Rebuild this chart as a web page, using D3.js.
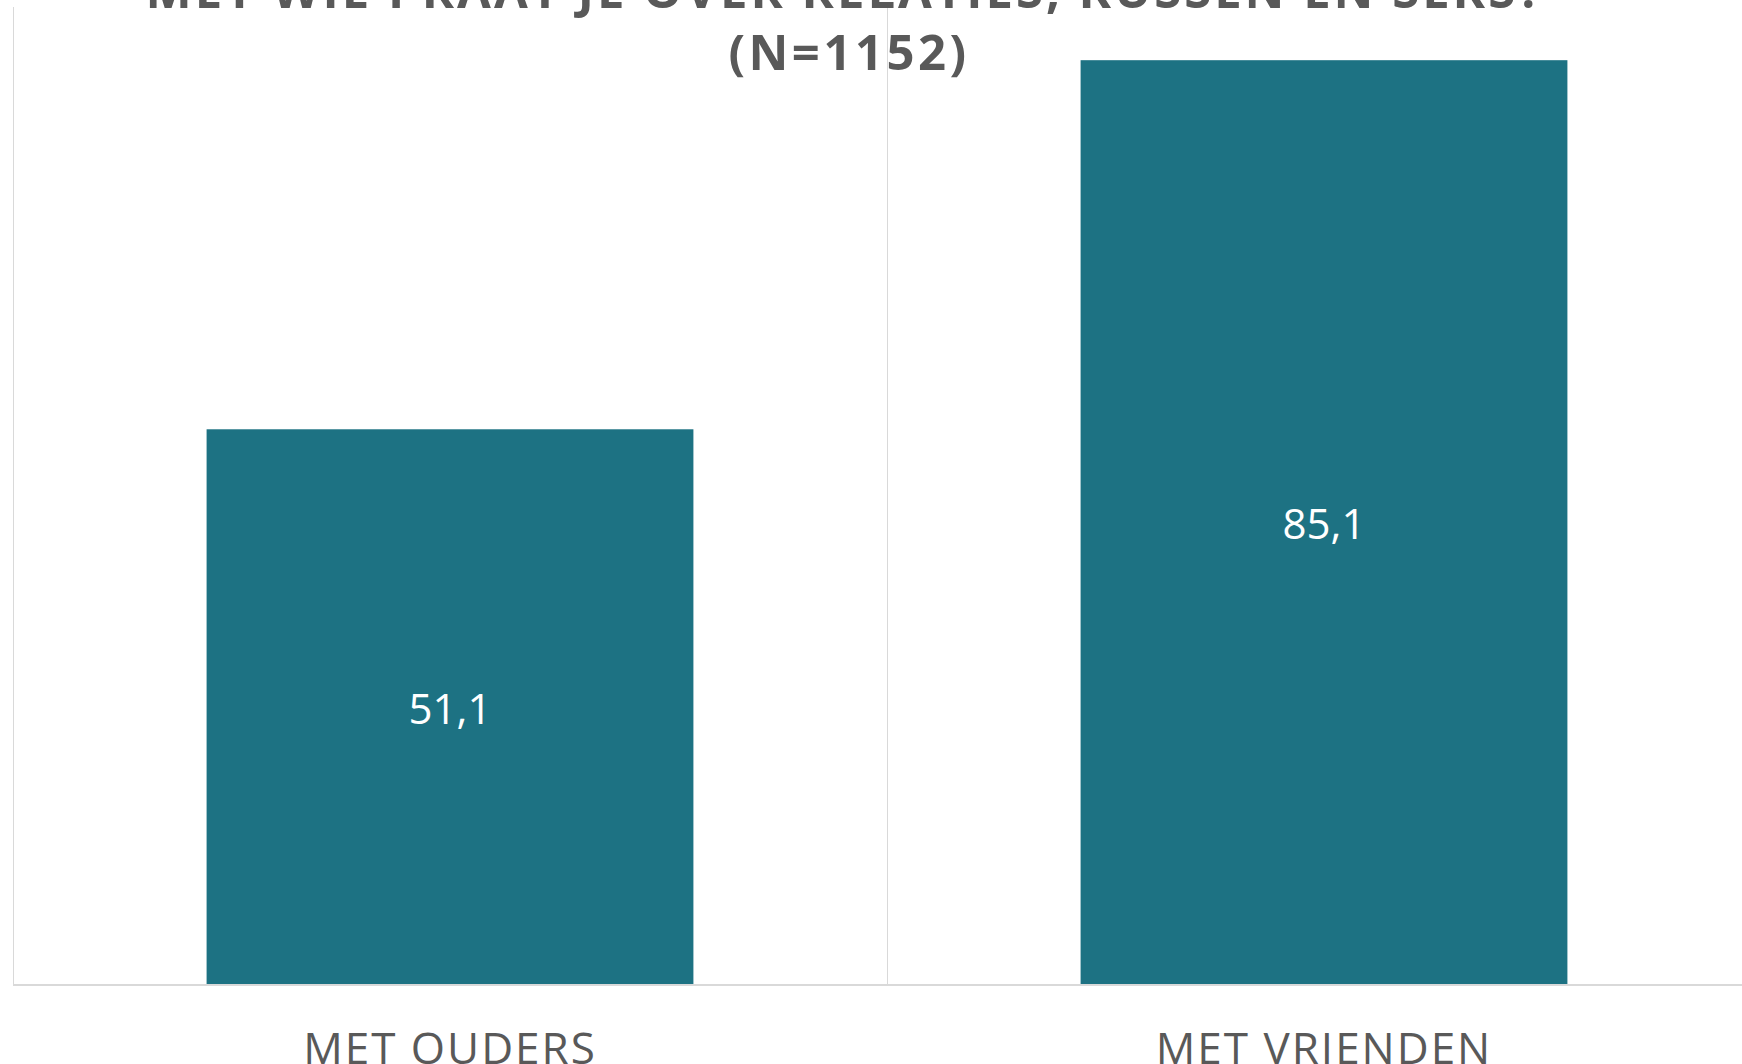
<!doctype html>
<html lang="nl">
  <head>
    <meta charset="UTF-8" />
    <title>Met wie praat je over relaties, kussen en seks?</title>
    <script src="https://unpkg.com/d3@7.9.0/dist/d3.min.js"></script>
    <style>
      body {
        margin: 0;
        overflow: hidden;
        background: #fff;
        font-family: 'Open Sans', sans-serif;
      }
      .title {
        font-size: 49px;
        font-weight: bold;
        fill: #595959;
        text-anchor: middle;
        letter-spacing: 3.5px;
      }
      .title.first {
        letter-spacing: 3px;
      }
      .cat-label {
        font-size: 44px;
        fill: #595959;
        text-anchor: middle;
        letter-spacing: 2px;
      }
      .value-label {
        font-size: 42px;
        fill: #fff;
        text-anchor: middle;
      }
      .grid line {
        stroke: #d9d9d9;
        stroke-width: 1;
      }
    </style>
  </head>
  <body>
    <svg width="1742" height="1064"></svg>

    <script>
      // data
      const categories = ['MET OUDERS', 'MET VRIENDEN'];
      const values = [51.1, 85.1];
      const titleLines = [
        'MET WIE PRAAT JE OVER RELATIES, KUSSEN EN SEKS?',
        '(N=1152)',
      ];

      const svg = d3.select('svg');

      const plot = { left: 13, top: 7, width: 1748, bottom: 984 };

      const x = d3
        .scaleBand()
        .domain(categories)
        .range([plot.left, plot.left + plot.width])
        .paddingInner(0.443)
        .paddingOuter(0.2215);

      const y = d3
        .scaleLinear()
        .domain([0, 90])
        .range([plot.bottom, plot.top]);

      // verticale rasterlijnen op de categoriegrenzen
      const step = x.step();
      const bounds = d3.range(categories.length + 1).map(
        (i) => plot.left + i * step,
      );
      svg
        .append('g')
        .attr('class', 'grid')
        .selectAll('line')
        .data(bounds)
        .join('line')
        .attr('x1', (d) => d + 0.5)
        .attr('x2', (d) => d + 0.5)
        .attr('y1', y(90))
        .attr('y2', y(0));

      // staven
      svg
        .append('g')
        .selectAll('rect')
        .data(values)
        .join('rect')
        .attr('x', (d, i) => x(categories[i]))
        .attr('width', x.bandwidth())
        .attr('y', (d) => y(d))
        .attr('height', (d) => y(0) - y(d))
        .attr('fill', '#1d7283');

      // x-as lijn
      svg
        .append('line')
        .attr('x1', plot.left)
        .attr('x2', plot.left + plot.width)
        .attr('y1', y(0) + 1)
        .attr('y2', y(0) + 1)
        .attr('stroke', '#d9d9d9')
        .attr('stroke-width', 2);

      // waardelabels
      svg
        .append('g')
        .selectAll('text')
        .data(values)
        .join('text')
        .attr('class', 'value-label')
        .attr('x', (d, i) => x(categories[i]) + x.bandwidth() / 2)
        .attr('y', (d) => (y(d) + y(0)) / 2 + 17)
        .text((d) => d3.format('.1f')(d).replace('.', ','));

      // categorielabels
      svg
        .append('g')
        .selectAll('text')
        .data(categories)
        .join('text')
        .attr('class', 'cat-label')
        .attr('x', (d) => x(d) + x.bandwidth() / 2)
        .attr('y', 1064)
        .text((d) => d);

      // titel
      svg
        .append('g')
        .selectAll('text')
        .data(titleLines)
        .join('text')
        .attr('class', (d, i) => (i === 0 ? 'title first' : 'title'))
        .attr('x', (d, i) => (i === 0 ? 845 : 849))
        .attr('y', (d, i) => 8 + i * 62)
        .text((d) => d);
    </script>
  </body>
</html>
